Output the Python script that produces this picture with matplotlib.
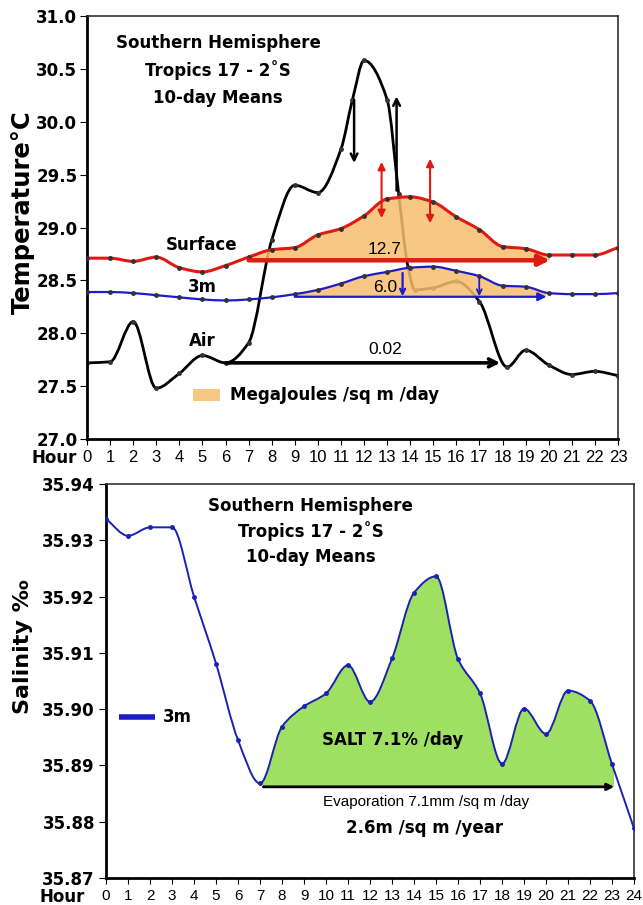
import numpy as np
import matplotlib
matplotlib.use("Agg")
import matplotlib.pyplot as plt
from matplotlib.path import Path
from matplotlib.patches import PathPatch, Rectangle

# ---- data ----
hours = list(range(24))
surface = [28.71, 28.71, 28.68, 28.72, 28.62, 28.58, 28.64, 28.72, 28.79, 28.81,
           28.93, 28.99, 29.11, 29.27, 29.29, 29.24, 29.10, 28.98, 28.82, 28.80,
           28.74, 28.74, 28.74, 28.81]
temp_3m = [28.39, 28.39, 28.38, 28.36, 28.34, 28.32, 28.31, 28.32, 28.34, 28.37,
           28.41, 28.47, 28.54, 28.58, 28.62, 28.63, 28.59, 28.54, 28.45, 28.44,
           28.38, 28.37, 28.37, 28.38]
air_hours = [0, 1, 2, 3, 4, 5, 6, 7, 8, 9, 10, 11, 11.5, 12, 13, 13.5, 13.9,
             14.2, 15, 16, 17, 18.2, 19, 20, 21, 22, 23]
air = [27.72, 27.73, 28.11, 27.48, 27.62, 27.79, 27.72, 27.91, 28.88, 29.40,
       29.33, 29.74, 30.21, 30.58, 30.21, 29.32, 28.63, 28.41, 28.43, 28.49,
       28.30, 27.68, 27.84, 27.70, 27.61, 27.64, 27.60]

sal_hours = list(range(25))
salinity = [35.9338, 35.9308, 35.9323, 35.9323, 35.9200, 35.9081, 35.8945,
            35.8868, 35.8969, 35.9005, 35.9028, 35.9078, 35.9013, 35.9090,
            35.9207, 35.9236, 35.9089, 35.9028, 35.8903, 35.9001, 35.8956,
            35.9033, 35.9015, 35.8902, 35.8788]

# baselines / annotation values
surf_base, surf_span = 28.69, (7, 20.05)
m3_base, m3_span = 28.345, (9, 19.9)
air_base, air_span = 27.72, (6, 17.9)
sal_base, sal_span = 35.8862, (7.15, 23.1)

narrow = "Liberation Sans"
plt.rcParams["font.family"] = "DejaVu Sans"

RED = "#e01a12"
BLUE = "#1c1cc8"
ORANGE = "#f7bd6e"
GREEN = "#9fe063"


def pchip_slopes(x, y):
    h = np.diff(x)
    d = np.diff(y) / h
    n = len(x)
    m = np.zeros(n)
    m[0], m[-1] = d[0], d[-1]
    for i in range(1, n - 1):
        if d[i - 1] * d[i] <= 0:
            m[i] = 0.0
        else:
            w1 = 2 * h[i] + h[i - 1]
            w2 = h[i] + 2 * h[i - 1]
            m[i] = (w1 + w2) / (w1 / d[i - 1] + w2 / d[i])
    return m


def smooth_path(x, y):
    # monotone cubic through the points, drawn as bezier segments
    x = np.asarray(x, float)
    y = np.asarray(y, float)
    m = pchip_slopes(x, y)
    verts = [(x[0], y[0])]
    codes = [Path.MOVETO]
    for i in range(len(x) - 1):
        h = x[i + 1] - x[i]
        verts += [(x[i] + h / 3, y[i] + m[i] * h / 3),
                  (x[i + 1] - h / 3, y[i + 1] - m[i + 1] * h / 3),
                  (x[i + 1], y[i + 1])]
        codes += [Path.CURVE4] * 3
    return Path(verts, codes)


def under_path(x, y, low):
    p = smooth_path(x, y)
    verts = list(p.vertices) + [(x[-1], low), (x[0], low), (x[0], low)]
    codes = list(p.codes) + [Path.LINETO, Path.LINETO, Path.CLOSEPOLY]
    return Path(verts, codes)


def draw_curve(ax, x, y, color, lw, z, ms=2.5, mcol="#333333"):
    ax.add_patch(PathPatch(smooth_path(x, y), facecolor="none", edgecolor=color,
                           lw=lw, zorder=z, capstyle="round"))
    ax.plot(x, y, ls="none", marker="o", ms=ms, color=mcol, zorder=z + 0.1)


def fill_under(ax, x, y, base, span, top, color, alpha, z):
    clip = PathPatch(under_path(x, y, base - 10), facecolor="none",
                     edgecolor="none")
    ax.add_patch(clip)
    rect = Rectangle((span[0], base), span[1] - span[0], top - base,
                     facecolor=color, edgecolor="none", alpha=alpha, zorder=z)
    ax.add_patch(rect)
    rect.set_clip_path(clip)


def harrow(ax, x0, x1, yv, color, lw, style="-|>", ms=14, z=4):
    ax.annotate("", xy=(x1, yv), xytext=(x0, yv),
                arrowprops=dict(arrowstyle=style, color=color, lw=lw,
                                mutation_scale=ms, shrinkA=0, shrinkB=0),
                zorder=z)


def varrow(ax, xv, y0, y1, color, lw=1.5, style="-|>", ms=10, z=5):
    ax.annotate("", xy=(xv, y1), xytext=(xv, y0),
                arrowprops=dict(arrowstyle=style, color=color, lw=lw,
                                mutation_scale=ms, shrinkA=0, shrinkB=0),
                zorder=z)


fig = plt.figure(figsize=(6.43, 9.05), dpi=100)

# ==============================
# Temperature panel
# ==============================
ax = fig.add_axes([0.1353, 0.5149, 0.8258, 0.4674])
ax.set_xlim(0, 23)
ax.set_ylim(27.0, 31.0)

draw_curve(ax, air_hours, air, "black", 2.0, 1.5)
fill_under(ax, hours, surface, surf_base, surf_span, 31, ORANGE, 0.85, 2)
fill_under(ax, hours, temp_3m, m3_base, m3_span, 31, ORANGE, 0.85, 2)
draw_curve(ax, hours, surface, RED, 2.2, 3)
draw_curve(ax, hours, temp_3m, BLUE, 1.6, 3)

harrow(ax, surf_span[0], surf_span[1], surf_base, RED, 3.2, ms=16)
harrow(ax, m3_span[0], m3_span[1], m3_base, BLUE, 1.6, ms=12)
harrow(ax, air_span[0], air_span[1], air_base, "black", 2.6, style="->", ms=14)

varrow(ax, 11.57, 30.21, 29.61, "black", lw=1.8, style="->", ms=12)
varrow(ax, 13.41, 29.35, 30.24, "black", lw=1.8, style="->", ms=12)
varrow(ax, 12.76, 29.09, 29.62, RED, lw=1.5, style="<|-|>", ms=11)
varrow(ax, 14.86, 29.04, 29.65, RED, lw=1.5, style="<|-|>", ms=11)
varrow(ax, 13.67, 28.57, 28.35, BLUE, lw=1.6, style="->", ms=9)
varrow(ax, 16.99, 28.52, 28.35, BLUE, lw=1.3, style="->", ms=9)

for yv, s in [(28.79, "12.7"), (28.43, "6.0"), (27.85, "0.02")]:
    ax.text(12.9, yv, s, ha="center", va="center", family=narrow,
            fontsize=12.5, zorder=6)

ax.text(4.98, 28.83, "Surface", ha="center", va="center", fontsize=12,
        fontweight="bold")
ax.text(4.98, 28.44, "3m", ha="center", va="center", fontsize=12,
        fontweight="bold")
ax.text(5.0, 27.93, "Air", ha="center", va="center", fontsize=12,
        fontweight="bold")

for yy, s in zip([0.936, 0.872, 0.806],
                 ["Southern Hemisphere", "Tropics 17 - 2˚S", "10-day Means"]):
    ax.text(0.2467, yy, s, transform=ax.transAxes, ha="center", va="center",
            fontsize=12, fontweight="bold")

ax.add_patch(Rectangle((0.1996, 0.090), 0.051, 0.028, transform=ax.transAxes,
                       facecolor=ORANGE, edgecolor="none", alpha=0.85))
ax.text(0.269, 0.104, "MegaJoules /sq m /day", transform=ax.transAxes,
        ha="left", va="center", fontsize=12, fontweight="bold")

ax.set_yticks(np.arange(27.0, 31.01, 0.5))
ax.set_yticklabels(["%.1f" % v for v in np.arange(27.0, 31.01, 0.5)],
                   fontweight="bold", fontsize=12)
ax.set_xticks(hours)
ax.set_xticklabels([str(h) for h in hours], family=narrow, fontsize=12)
ax.tick_params(axis="x", length=4, pad=4)
ax.tick_params(axis="y", length=5, pad=2)
ax.text(-0.019, -0.045, "Hour", transform=ax.transAxes, ha="right",
        va="center", fontsize=12, fontweight="bold")

for s in ["left", "bottom"]:
    ax.spines[s].set_linewidth(2)
for s in ["top", "right"]:
    ax.spines[s].set_linewidth(1.2)
    ax.spines[s].set_color("#333333")

fig.text(23 / 643, 1 - 212 / 905, "Temperature°C", rotation=90, ha="center",
         va="center", fontsize=17.5, fontweight="bold")

# ==============================
# Salinity panel
# ==============================
bx = fig.add_axes([0.1649, 0.0298, 0.8212, 0.4354])
bx.set_xlim(0, 24)
bx.set_ylim(35.87, 35.94)

fill_under(bx, sal_hours, salinity, sal_base, sal_span, 35.94, GREEN, 1.0, 2)
draw_curve(bx, sal_hours, salinity, "#1a22b0", 1.4, 3, ms=2.5, mcol="#1a22b0")
harrow(bx, sal_span[0], sal_span[1], sal_base, "black", 2.0, ms=10)

for yy, s in zip([0.944, 0.881, 0.815],
                 ["Southern Hemisphere", "Tropics 17 - 2˚S", "10-day Means"]):
    bx.text(0.388, yy, s, transform=bx.transAxes, ha="center", va="center",
            fontsize=12, fontweight="bold")

bx.plot([0.0246, 0.0928], [0.409, 0.409], transform=bx.transAxes,
        color=BLUE, lw=4, solid_capstyle="butt")
bx.text(0.108, 0.409, "3m", transform=bx.transAxes, ha="left", va="center",
        fontsize=12, fontweight="bold")

bx.text(0.409, 0.350, "SALT 7.1% /day", transform=bx.transAxes, ha="left",
        va="center", fontsize=12, fontweight="bold", zorder=6)
bx.text(0.411, 0.193, "Evaporation 7.1mm /sq m /day", transform=bx.transAxes,
        ha="left", va="center", family=narrow, fontsize=11)
bx.text(0.604, 0.127, "2.6m /sq m /year", transform=bx.transAxes,
        ha="center", va="center", fontsize=12, fontweight="bold")

sal_ticks = np.arange(35.87, 35.9401, 0.01)
bx.set_yticks(sal_ticks)
bx.set_yticklabels(["%.2f" % v for v in sal_ticks], fontweight="bold",
                   fontsize=12)
bx.set_xticks(sal_hours)
bx.set_xticklabels([str(h) for h in sal_hours], family=narrow, fontsize=11)
bx.tick_params(axis="x", length=4, pad=4)
bx.tick_params(axis="y", length=5, pad=3)
bx.text(-0.040, -0.048, "Hour", transform=bx.transAxes, ha="right",
        va="center", fontsize=12, fontweight="bold")

for s in ["left", "bottom"]:
    bx.spines[s].set_linewidth(2)
for s in ["top", "right"]:
    bx.spines[s].set_linewidth(1.2)
    bx.spines[s].set_color("#333333")

fig.text(23 / 643, 1 - 647 / 905, "Salinity ‰", rotation=90, ha="center",
         va="center", fontsize=16, fontweight="bold")

fig.savefig("out.png", dpi=100)
